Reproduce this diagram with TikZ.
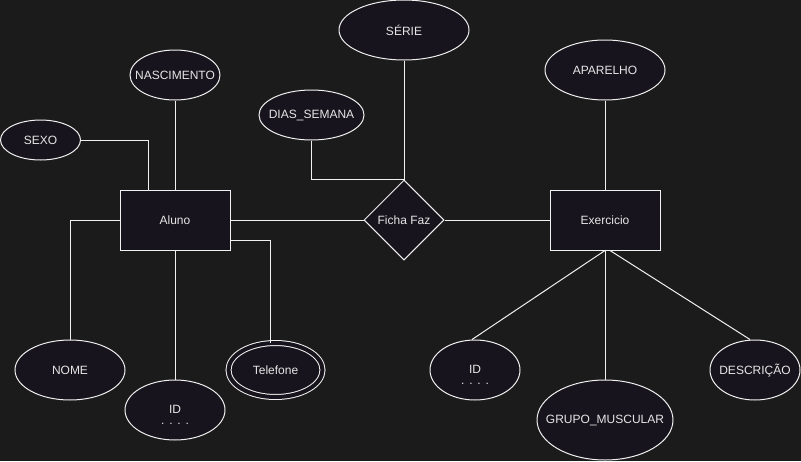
\documentclass[tikz,border=0pt]{standalone}
\usepackage{fontspec}
\setmainfont{Liberation Sans}
\usepackage{tikz}
\usetikzlibrary{shapes.geometric}
\definecolor{bgcolor}{HTML}{1B1B1B}
\definecolor{shapefill}{HTML}{18141D}
\definecolor{strokecol}{HTML}{F0F0F0}
\definecolor{textcol}{HTML}{E6E6E6}
\def\keydots{.\kern4.8pt.\kern4.8pt.\kern4.8pt.}
\def\attrtext#1{\makebox[0pt]{#1}}
\tikzset{
	entity/.style={draw=strokecol, fill=shapefill, minimum width=110pt, minimum height=60pt, inner sep=0pt},
	attrib/.style={ellipse, draw=strokecol, fill=shapefill, inner sep=0pt},
	relation/.style={diamond, draw=strokecol, fill=shapefill, minimum width=80pt, minimum height=80pt, inner sep=0pt},
	multival/.style={attrib, double=shapefill, double distance=4pt},
}

\begin{document}
\begin{tikzpicture}[x=1pt, y=-1pt, line width=1pt, strokecol, text=textcol, font=\fontsize{12}{14.4}\selectfont]
			%%%%% START %%%%%
			\useasboundingbox[fill=bgcolor] (0, 0) rectangle (801, 461);
			
			% entities and relationship
			\node[entity] (aluno) at (175, 220) {Aluno};
			\node[entity] (exerc) at (605, 220) {Exercicio};
			\node[relation] (ficha) at (404, 220) {Ficha Faz};
			
			% attributes of Aluno
			\node[attrib, minimum width=80pt, minimum height=40pt] (sexo) at (40.5, 140) {\attrtext{SEXO}};
			\node[attrib, minimum width=90pt, minimum height=50pt] (nasc) at (175, 75) {\attrtext{NASCIMENTO}};
			\node[attrib, minimum width=110pt, minimum height=60pt] (nome) at (70, 370) {\attrtext{NOME}};
			\node[attrib, minimum width=100pt, minimum height=60pt] (idaluno) at (175, 410) {\attrtext{\shortstack{\rule{0pt}{18.6pt}ID\\[7pt]\keydots}}};
			\node[multival, minimum width=94pt, minimum height=54pt] (tel) at (275.5, 370) {\attrtext{Telefone}};
			
			% attributes of Ficha Faz
			\node[attrib, minimum width=130pt, minimum height=60pt] (serie) at (404, 30) {\attrtext{SÉRIE}};
			\node[attrib, minimum width=105pt, minimum height=50pt] (dias) at (311.5, 115) {\attrtext{DIAS\_SEMANA}};
			
			% attributes of Exercicio
			\node[attrib, minimum width=120pt, minimum height=60pt] (apar) at (605, 70) {\attrtext{APARELHO}};
			\node[attrib, minimum width=90pt, minimum height=60pt] (idexerc) at (475, 370) {\attrtext{\shortstack{\rule{0pt}{18.6pt}ID\\[7pt]\keydots}}};
			\node[attrib, minimum width=136pt, minimum height=80pt] (grupo) at (605, 420) {\attrtext{GRUPO\_MUSCULAR}};
			\node[attrib, minimum width=90pt, minimum height=60pt] (desc) at (755, 370) {\attrtext{DESCRIÇÃO}};
			
			% connectors
			\draw (sexo.east) -| ([xshift=-27pt]aluno.north);
			\draw (nasc) -- (aluno);
			\draw (aluno.west) -| (nome.north);
			\draw (aluno) -- (idaluno);
			\draw ([yshift=-20pt]aluno.east) -| ([xshift=-5.5pt]tel.north);
			\draw (aluno) -- (ficha);
			\draw (serie) -- (ficha);
			\draw (dias.south) |- (ficha.north);
			\draw (ficha) -- (exerc);
			\draw (apar) -- (exerc);
			\draw (exerc.south) -- ([xshift=-3pt]idexerc.north);
			\draw (exerc.south) -- (grupo.north);
			\draw ([xshift=5pt]exerc.south) -- ([xshift=-5pt]desc.north);
			
			%%%%% END %%%%%
\end{tikzpicture}
\end{document}
